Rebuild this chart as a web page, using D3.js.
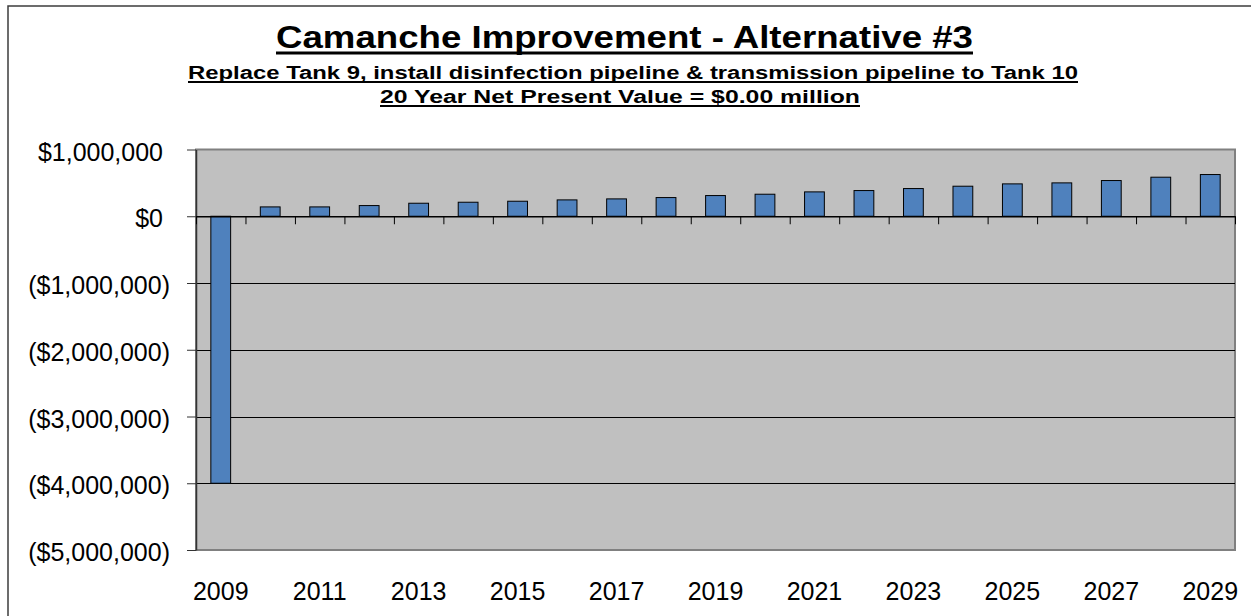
<!DOCTYPE html>
<html>
<head>
    <meta charset="utf-8">
    <title>Camanche Improvement - Alternative #3</title>
    <script src="https://d3js.org/d3.v7.min.js"></script>
    <style>
        html, body {
            margin: 0;
            padding: 0;
            background: #fff;
        }
        svg text {
            font-family: "Liberation Sans", Arial, sans-serif;
            fill: #000;
        }
    </style>
</head>
<body>
    <svg id="chart" width="1251" height="616"></svg>

    <script>
        // Chart data
        const years = d3.range(2009, 2030);
        const cashFlow = [
            -4000000, 140000, 140000, 160000, 195000, 210000, 225000,
            245000, 260000, 280000, 310000, 330000, 365000, 385000,
            415000, 450000, 485000, 500000, 535000, 585000, 625000
        ];
        const yTicks = [1000000, 0, -1000000, -2000000, -3000000, -4000000, -5000000];
        const labelYears = years.filter((d, i) => i % 2 === 0);

        const titleText = "Camanche Improvement - Alternative #3";
        const subtitleText = "Replace Tank 9, install disinfection pipeline & transmission pipeline to Tank 10";
        const npvText = "20 Year Net Present Value = $0.00 million";

        const data = years.map((year, i) => ({year, value: cashFlow[i]}));

        const svg = d3.select("#chart");
        const plot = {left: 196, right: 1235, top: 149.5, bottom: 550};

        // outer chart frame (only top and left visible)
        svg.append("path")
            .attr("d", "M8,616V6H1251")
            .attr("fill", "none")
            .attr("stroke", "#3c3c3c")
            .attr("stroke-width", 1.5);

        // titles, underlined
        function addTitle(text, cx, baseline, size, width, ulY, ulW) {
            svg.append("text")
                .attr("x", cx)
                .attr("y", baseline)
                .attr("text-anchor", "middle")
                .attr("font-weight", "bold")
                .attr("font-size", size)
                .attr("textLength", width)
                .attr("lengthAdjust", "spacingAndGlyphs")
                .text(text);
            svg.append("line")
                .attr("x1", cx - width / 2)
                .attr("x2", cx + width / 2)
                .attr("y1", ulY)
                .attr("y2", ulY)
                .attr("stroke", "#000")
                .attr("stroke-width", ulW);
        }
        addTitle(titleText, 624.5, 48, 32, 697, 53, 3);
        addTitle(subtitleText, 633, 78.5, 18, 890, 82, 2);
        addTitle(npvText, 620, 102.5, 18, 480, 106, 2);

        // scales
        const x = d3.scaleBand()
            .domain(years)
            .range([plot.left, plot.right])
            .paddingInner(0.6)
            .paddingOuter(0.3);

        const xEdge = d3.scaleLinear()
            .domain([0, years.length])
            .range([plot.left, plot.right]);

        const y = d3.scaleLinear()
            .domain([-5000000, 1000000])
            .range([plot.bottom, plot.top]);

        // plot area
        svg.append("rect")
            .attr("x", plot.left)
            .attr("y", plot.top)
            .attr("width", plot.right - plot.left)
            .attr("height", plot.bottom - plot.top)
            .attr("fill", "#c0c0c0")
            .attr("stroke", "#808080")
            .attr("stroke-width", 2);

        // gridlines
        svg.append("g")
            .selectAll("line")
            .data(yTicks.filter(d => d < 0 && d > -5000000))
            .join("line")
            .attr("x1", plot.left)
            .attr("x2", plot.right)
            .attr("y1", d => Math.round(y(d)) + 0.5)
            .attr("y2", d => Math.round(y(d)) + 0.5)
            .attr("stroke", "#000")
            .attr("stroke-width", 1);

        // bars
        svg.append("g")
            .selectAll("rect")
            .data(data)
            .join("rect")
            .attr("x", d => x(d.year))
            .attr("width", x.bandwidth())
            .attr("y", d => y(Math.max(0, d.value)))
            .attr("height", d => Math.abs(y(d.value) - y(0)))
            .attr("fill", "#4f81bd")
            .attr("stroke", "#000")
            .attr("stroke-width", 1);

        // y axis, accounting style labels
        const fmt = d3.format("$,.0f");
        const yAxis = svg.append("g")
            .attr("transform", `translate(${plot.left},0)`)
            .call(d3.axisLeft(y)
                .tickValues(yTicks)
                .tickSize(9)
                .tickSizeOuter(0)
                .tickPadding(17)
                .tickFormat(d => d < 0 ? `(${fmt(-d)})` : fmt(d)));
        yAxis.select(".domain").attr("stroke", "#333").attr("stroke-width", 1.5);
        yAxis.selectAll(".tick line").attr("stroke", "#333");
        yAxis.selectAll(".tick text")
            .attr("font-size", 25)
            .attr("font-family", null)
            .attr("dy", "0.42em")
            .attr("dx", d => d < 0 ? 0 : -7);

        // category axis along zero, tick marks at category edges
        const xAxis = svg.append("g")
            .attr("transform", `translate(0,${y(0)})`)
            .call(d3.axisBottom(xEdge)
                .tickValues(d3.range(years.length + 1))
                .tickSize(8)
                .tickSizeOuter(0)
                .tickFormat(""));
        xAxis.select(".domain").attr("stroke", "#000").attr("stroke-width", 1.5);
        xAxis.selectAll(".tick line").attr("stroke", "#000");

        // year labels below the plot
        const xLabels = svg.append("g")
            .attr("transform", `translate(0,${plot.bottom})`)
            .call(d3.axisBottom(x)
                .tickValues(labelYears)
                .tickSize(0)
                .tickPadding(0));
        xLabels.select(".domain").remove();
        xLabels.selectAll(".tick text")
            .attr("font-size", 25)
            .attr("font-family", null)
            .attr("dy", null)
            .attr("y", 50);
    </script>
</body>
</html>
